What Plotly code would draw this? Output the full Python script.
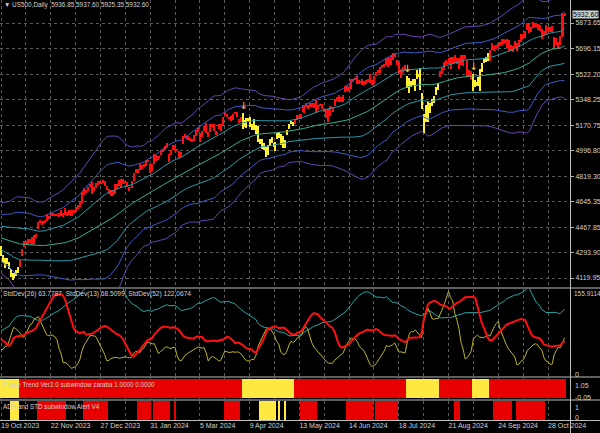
import numpy as np
import pandas as pd
import plotly.graph_objects as go
from plotly.subplots import make_subplots

# ---------------- data ----------------
date_labels = ["19 Oct 2023", "22 Nov 2023", "27 Dec 2023", "31 Jan 2024", "5 Mar 2024", "9 Apr 2024",
               "13 May 2024", "14 Jun 2024", "18 Jul 2024", "21 Aug 2024", "24 Sep 2024", "28 Oct 2024"]
label_bars = [0, 24, 48, 72, 96, 120, 144, 168, 192, 216, 240, 264]
price_ticks = [4119.95, 4293.90, 4467.85, 4645.35, 4819.30, 4996.80, 5170.75, 5348.25, 5522.20, 5696.15, 5873.65]
price_tick_text = ["4119.95", "4293.90", "4467.85", "4645.35", "4819.30", "4996.80", "5170.75", "5348.25",
                   "5522.20", "5696.15", "5873.65"]

# closes before the first visible bar (needed by the indicators)
pre_closes = [4576.7, 4513.4, 4501.9, 4478.0, 4518.4, 4499.4, 4467.7, 4468.8, 4464.1, 4489.7, 4437.9, 4404.3,
              4370.4, 4369.7, 4399.8, 4387.6, 4436.0, 4376.3, 4405.7, 4433.3, 4497.6, 4514.9, 4507.7,
              4515.8, 4515.0, 4496.8, 4465.5, 4451.1, 4457.5, 4487.5, 4461.9, 4467.4, 4505.1, 4450.3, 4453.5,
              4443.9, 4402.2, 4330.0, 4320.1, 4337.4, 4273.5, 4274.5, 4299.7, 4288.1,
              4288.4, 4229.5, 4263.8, 4258.2, 4308.5, 4335.7, 4358.2, 4376.9, 4349.6, 4327.8, 4373.6, 4373.2, 4314.6]

opens = [4321, 4273, 4210, 4235, 4232, 4175, 4152, 4139, 4171,
         4201, 4268, 4334, 4365, 4366, 4384, 4391, 4364, 4406, 4459, 4505, 4497, 4510, 4511, 4538, 4553, 4556, 4555, 4555, 4545, 4571, 4559,
         4559, 4564, 4565, 4586, 4568, 4576, 4601, 4618, 4646, 4721, 4714, 4726, 4743, 4764, 4724, 4754, 4759, 4773, 4786, 4782,
         4745, 4726, 4698, 4690, 4703, 4742, 4760, 4792, 4791, 4784, 4772, 4740, 4760, 4797, 4853, 4856, 4888, 4887, 4889, 4892, 4925, 4899,
         4862, 4916, 4957, 4950, 4973, 4996, 5005, 5027, 4967, 4977, 5004, 5032, 5006, 4989, 4964, 5039, 5094, 5094, 5074, 5067, 5085,
         5098, 5130, 5110, 5109, 5132, 5164, 5111, 5134, 5174, 5176, 5124, 5154, 5139, 5182, 5254, 5243, 5220, 5228, 5226, 5248,
         5258, 5204, 5194, 5244, 5158, 5211, 5218, 5157, 5172, 5171, 5149, 5065, 5068, 5032, 5005, 4987, 5028, 5084, 5019, 5084, 5114, 5103,
         5029, 5050, 5122, 5142, 5187, 5168, 5190, 5225, 5233, 5221, 5263, 5310, 5303, 5305, 5299, 5319, 5340, 5282, 5305, 5315, 5279, 5270, 5244,
         5297, 5275, 5314, 5357, 5343, 5341, 5353, 5410, 5441, 5424, 5431, 5477, 5487, 5499, 5466, 5459, 5461, 5461, 5473, 5488,
         5471, 5462, 5507, 5537, 5537, 5572, 5584, 5591, 5635, 5590, 5638, 5644, 5610, 5608, 5543, 5540, 5566, 5506, 5429, 5434, 5477, 5479, 5499,
         5537, 5377, 5151, 5206, 5293, 5252, 5311, 5352, 5376, 5443, 5501, 5530, 5558, 5603, 5603, 5637, 5602, 5639, 5602, 5629, 5607, 5613,
         5648, 5612, 5506, 5529, 5508, 5443, 5490, 5496, 5558, 5603, 5623, 5655, 5641, 5703, 5709, 5711, 5726, 5733, 5762, 5755, 5727,
         5757, 5698, 5698, 5734, 5737, 5719, 5751, 5778, 5775, 5829, 5866, 5816, 5875, 5860, 5858, 5833, 5834, 5815, 5826, 5834, 5819, 5826, 5776, 5724, 5724, 5722, 5785, 5936.85]

highs = [4339, 4276, 4256, 4259, 4233, 4184, 4156, 4177, 4195,
         4245, 4319, 4374, 4372, 4387, 4391, 4400, 4418, 4421, 4504, 4522, 4512, 4521, 4557, 4542, 4568, 4564, 4560, 4562, 4568, 4587, 4569,
         4599, 4574, 4587, 4591, 4591, 4610, 4623, 4644, 4709, 4739, 4726, 4749, 4769, 4779, 4749, 4773, 4785, 4785, 4793, 4789,
         4755, 4729, 4727, 4722, 4765, 4765, 4791, 4799, 4803, 4790, 4783, 4744, 4785, 4842, 4868, 4866, 4903, 4898, 4907, 4929, 4932, 4906,
         4907, 4975, 4963, 4958, 4999, 5000, 5030, 5048, 4971, 5003, 5032, 5038, 5010, 4993, 4984, 5094, 5112, 5098, 5083, 5077, 5105,
         5140, 5149, 5114, 5128, 5165, 5189, 5124, 5180, 5180, 5180, 5128, 5176, 5180, 5226, 5261, 5246, 5229, 5236, 5249, 5264,
         5263, 5209, 5229, 5256, 5222, 5219, 5224, 5178, 5211, 5175, 5168, 5078, 5077, 5046, 5019, 5038, 5076, 5089, 5057, 5114, 5124, 5110,
         5096, 5070, 5140, 5181, 5200, 5191, 5215, 5239, 5238, 5250, 5311, 5325, 5305, 5325, 5324, 5324, 5342, 5311, 5315, 5315, 5282, 5273, 5280,
         5302, 5297, 5354, 5362, 5376, 5365, 5376, 5442, 5442, 5433, 5488, 5490, 5495, 5506, 5479, 5490, 5472, 5483, 5490, 5524,
         5479, 5509, 5539, 5547, 5570, 5584, 5590, 5635, 5642, 5655, 5667, 5670, 5622, 5614, 5557, 5570, 5586, 5508, 5492, 5475, 5487, 5489, 5551,
         5566, 5395, 5250, 5312, 5330, 5326, 5351, 5372, 5435, 5464, 5546, 5561, 5608, 5621, 5633, 5643, 5642, 5651, 5631, 5632, 5655, 5651,
         5652, 5616, 5552, 5546, 5522, 5484, 5500, 5560, 5600, 5636, 5637, 5670, 5690, 5733, 5716, 5722, 5735, 5742, 5767, 5764, 5765,
         5758, 5720, 5718, 5753, 5739, 5757, 5797, 5796, 5822, 5871, 5870, 5846, 5878, 5872, 5866, 5863, 5835, 5818, 5862, 5843, 5848, 5850, 5776, 5773, 5741, 5784, 5940, 5937.6]

lows = [4268, 4223, 4190, 4219, 4181, 4127, 4103, 4132, 4153,
        4197, 4268, 4334, 4347, 4355, 4359, 4344, 4353, 4394, 4459, 4496, 4487, 4500, 4511, 4525, 4546, 4552, 4552, 4546, 4537, 4547, 4538,
        4554, 4546, 4556, 4546, 4565, 4575, 4594, 4608, 4635, 4694, 4702, 4721, 4743, 4698, 4717, 4737, 4758, 4766, 4780, 4751,
        4722, 4700, 4683, 4682, 4700, 4730, 4756, 4740, 4769, 4776, 4748, 4715, 4740, 4785, 4844, 4842, 4865, 4870, 4882, 4888, 4916, 4845,
        4853, 4907, 4927, 4932, 4969, 4987, 4999, 5016, 4920, 4964, 4999, 4996, 4994, 4947, 4951, 5039, 5081, 5069, 5059, 5058, 5063,
        5094, 5127, 5057, 5092, 5128, 5117, 5091, 5121, 5161, 5131, 5101, 5147, 5131, 5172, 5240, 5229, 5216, 5203, 5210, 5245,
        5229, 5184, 5194, 5146, 5154, 5197, 5160, 5138, 5139, 5108, 5053, 5040, 5008, 5001, 4953, 4969, 5027, 5048, 4990, 5073, 5085, 5035,
        5013, 5011, 5102, 5142, 5178, 5165, 5180, 5209, 5211, 5211, 5256, 5296, 5283, 5299, 5297, 5286, 5257, 5278, 5300, 5280, 5262, 5222, 5192,
        5234, 5264, 5303, 5336, 5332, 5331, 5331, 5397, 5404, 5404, 5420, 5471, 5480, 5452, 5452, 5447, 5446, 5452, 5471, 5460,
        5444, 5452, 5507, 5533, 5531, 5563, 5574, 5587, 5574, 5584, 5616, 5639, 5584, 5522, 5497, 5529, 5552, 5426, 5390, 5434, 5444, 5403, 5486,
        5410, 5283, 5120, 5193, 5196, 5252, 5301, 5324, 5376, 5415, 5501, 5526, 5550, 5584, 5591, 5560, 5590, 5602, 5593, 5560, 5582, 5581,
        5628, 5511, 5503, 5486, 5403, 5434, 5442, 5406, 5535, 5601, 5605, 5614, 5615, 5690, 5683, 5696, 5699, 5713, 5722, 5727, 5703,
        5680, 5679, 5675, 5703, 5683, 5712, 5740, 5765, 5772, 5825, 5804, 5809, 5840, 5846, 5824, 5822, 5762, 5784, 5800, 5823, 5809, 5812, 5703, 5723, 5696, 5721, 5775, 5925.35]

closes = [4278, 4224, 4217, 4248, 4186, 4137, 4117, 4167, 4194,
          4238, 4318, 4358, 4365, 4378, 4383, 4347, 4415, 4411, 4496, 4503, 4509, 4514, 4547, 4538, 4556, 4560, 4559, 4550, 4555, 4551, 4568,
          4595, 4569, 4567, 4549, 4585, 4604, 4622, 4644, 4707, 4720, 4719, 4741, 4768, 4698, 4746, 4755, 4775, 4782, 4783, 4770,
          4743, 4705, 4689, 4697, 4764, 4757, 4783, 4780, 4784, 4782, 4766, 4739, 4781, 4840, 4851, 4865, 4869, 4894, 4891, 4928, 4925, 4846,
          4906, 4959, 4943, 4954, 4995, 4998, 5027, 5022, 4953, 5001, 5030, 5006, 5000, 4976, 4982, 5087, 5089, 5070, 5078, 5070, 5096,
          5137, 5131, 5079, 5105, 5157, 5124, 5118, 5175, 5165, 5150, 5117, 5149, 5179, 5225, 5241, 5234, 5218, 5204, 5248, 5254,
          5243, 5205, 5211, 5147, 5204, 5202, 5209, 5161, 5200, 5123, 5061, 5051, 5022, 5011, 4967, 5010, 5071, 5072, 5048, 5100, 5116, 5036,
          5018, 5064, 5128, 5181, 5187, 5188, 5214, 5223, 5221, 5247, 5308, 5297, 5303, 5308, 5321, 5307, 5268, 5305, 5310, 5306, 5267, 5236, 5278,
          5283, 5291, 5354, 5352, 5347, 5361, 5375, 5421, 5434, 5432, 5473, 5487, 5486, 5473, 5464, 5448, 5469, 5478, 5483, 5460,
          5475, 5509, 5537, 5545, 5567, 5572, 5577, 5633, 5585, 5615, 5631, 5667, 5589, 5545, 5505, 5564, 5555, 5427, 5399, 5459, 5464, 5436, 5522,
          5446, 5347, 5186, 5240, 5199, 5319, 5344, 5344, 5434, 5455, 5543, 5554, 5608, 5597, 5620, 5571, 5635, 5616, 5625, 5592, 5592, 5648,
          5635, 5528, 5520, 5503, 5408, 5471, 5496, 5554, 5596, 5626, 5633, 5634, 5618, 5714, 5703, 5718, 5732, 5722, 5745, 5738, 5762,
          5709, 5710, 5699, 5751, 5696, 5751, 5793, 5780, 5815, 5859, 5815, 5843, 5841, 5865, 5853, 5851, 5797, 5809, 5808, 5823, 5832, 5813, 5705, 5729, 5712, 5782, 5935, 5932.6]

# trend state (bar index ranges in yellow; all other bars red)
trend_yellow = [(0, 8), (117, 141), (196, 211), (228, 235)]
# ADX/STD alert histogram (bar index ranges)
adx_red = [(18, 31), (40, 51), (66, 72), (74, 81), (84, 84), (108, 115), (145, 152), (167, 179), (181, 191),
           (219, 221), (238, 246), (249, 262)]
adx_yellow = [(5, 8), (125, 131), (132, 132), (134, 134), (137, 137)]
arrow_bars = [117, 196, 228]

# ---------------- derived ----------------
n = len(closes)
xs = list(range(n))
allc = pd.Series(pre_closes + closes, dtype=float)
off = len(pre_closes)
sd13 = allc.rolling(13).std(ddof=0).values[off:]
sd26 = allc.rolling(26).std(ddof=0).values[off:]
sd52 = allc.rolling(52).std(ddof=0).values[off:]
ma52 = allc.rolling(52).mean().values[off:]

RED = "#FF1010"
YEL = "#FFF030"
is_yel = np.zeros(n, dtype=bool)
for a, b in trend_yellow:
    is_yel[a:b + 1] = True
cols = [YEL if y else RED for y in is_yel]

o = np.array(opens, float); h = np.array(highs, float); l = np.array(lows, float); c = np.array(closes, float)
wick_lo = np.minimum(l, np.minimum(o, c)); wick_hi = np.maximum(h, np.maximum(o, c))
body_lo = np.minimum(o, c); body_len = np.maximum(np.abs(c - o), 5.0)

# ---------------- figure ----------------
W, H = 600, 433
PW, PH = 570, 420
def py(sy):
    return (PH - sy) / PH
def pxp(sx):
    return sx / PW

fig = make_subplots(rows=4, cols=1, shared_xaxes=True, vertical_spacing=0.0)

# Bollinger-style bands: 52-period mean with +-1, 2, 3 standard deviations
band_mults = [3, 2, 1, 0, -1, -2, -3]
band_cols = ["#6a44b0", "#3e5cc8", "#2a9aa8", "#38b08a", "#2a9aa8", "#3e5cc8", "#6a44b0"]
for k, col in zip(band_mults, band_cols):
    fig.add_trace(go.Scatter(x=xs, y=ma52 + k * sd52, mode="lines", line=dict(color=col, width=1),
                             hoverinfo="skip", showlegend=False), row=1, col=1)

fig.add_trace(go.Bar(x=xs, y=wick_hi - wick_lo, base=wick_lo, width=0.5, marker=dict(color=cols, line=dict(width=0)),
                     showlegend=False, hoverinfo="skip"), row=1, col=1)
fig.add_trace(go.Bar(x=xs, y=body_len, base=body_lo, width=1.0, marker=dict(color=cols, line=dict(width=0)),
                     showlegend=False, hoverinfo="skip"), row=1, col=1)
fig.add_trace(go.Scatter(x=arrow_bars, y=[highs[i] + 45 for i in arrow_bars], mode="text", text=["\u2193"] * len(arrow_bars),
                         textfont=dict(color="#FFD040", size=10, family="DejaVu Sans"), showlegend=False, hoverinfo="skip"),
              row=1, col=1)

# StdDev panel
fig.add_trace(go.Scatter(x=xs, y=sd52, mode="lines", line=dict(color="#2aa8a8", width=1), showlegend=False, hoverinfo="skip"), row=2, col=1)
fig.add_trace(go.Scatter(x=xs, y=sd13, mode="lines", line=dict(color="#bdb52a", width=1), showlegend=False, hoverinfo="skip"), row=2, col=1)
fig.add_trace(go.Scatter(x=xs, y=sd26, mode="lines", line=dict(color="#FF1010", width=2), showlegend=False, hoverinfo="skip"), row=2, col=1)

# Trend panel
fig.add_trace(go.Bar(x=xs, y=[1] * n, base=0, width=1.0, marker=dict(color=["#FFE840" if y else "#E80000" for y in is_yel], line=dict(width=0)),
                     showlegend=False, hoverinfo="skip"), row=3, col=1)

# ADX panel
adx_x, adx_c = [], []
for a, b in adx_red:
    for i in range(a, b + 1):
        adx_x.append(i); adx_c.append("#E80000")
for a, b in adx_yellow:
    for i in range(a, b + 1):
        adx_x.append(i); adx_c.append("#FFE840")
fig.add_trace(go.Bar(x=adx_x, y=[1] * len(adx_x), base=0, width=1.0, marker=dict(color=adx_c, line=dict(width=0)),
                     showlegend=False, hoverinfo="skip"), row=4, col=1)

FONT = "Liberation Sans, Arial, sans-serif"
TXT = "#d2d2d2"
GRID = "#5a5a5a"
xr = [-0.5, (PW - 1) / 2.072]
grid_vals = list(range(0, 270, 12))
for r in range(1, 5):
    fig.update_xaxes(range=xr, showgrid=True, gridcolor=GRID, griddash="dot", gridwidth=1, tickvals=grid_vals,
                     zeroline=False, showline=False, showticklabels=False, ticks="", row=r, col=1)
fig.update_xaxes(showticklabels=True, ticktext=[date_labels[label_bars.index(v)] if v in label_bars else "" for v in grid_vals],
                 tickfont=dict(family=FONT, size=7, color=TXT), ticklabelposition="outside right", row=4, col=1)

fig.update_yaxes(domain=[py(287), 1.0], range=[4058.1, 6031.8], side="right", tickvals=price_ticks, ticktext=price_tick_text,
                 showgrid=True, gridcolor=GRID, griddash="dot", gridwidth=1, zeroline=False, ticks="outside", ticklen=3,
                 tickcolor="#b0b0b0", tickfont=dict(family=FONT, size=7, color=TXT), row=1, col=1)
fig.update_yaxes(domain=[py(376), py(289)], range=[0, 155.9114], showgrid=False, zeroline=False, showticklabels=False, row=2, col=1)
fig.update_yaxes(domain=[py(399), py(378)], range=[-0.05, 1.05], showgrid=False, zeroline=False, showticklabels=False, row=3, col=1)
fig.update_yaxes(domain=[py(420), py(401)], range=[0, 1], showgrid=False, zeroline=False, showticklabels=False, row=4, col=1)

shapes = []
for sy in [288, 377, 400, 420.5]:
    shapes.append(dict(type="line", xref="paper", yref="paper", x0=0, x1=W / PW, y0=py(sy), y1=py(sy),
                       line=dict(color="#bdbdbd", width=1)))
shapes.append(dict(type="line", xref="paper", yref="paper", x0=pxp(570.5), x1=pxp(570.5), y0=py(433), y1=1,
                   line=dict(color="#bdbdbd", width=1)))

ann = []
def label(text, sx, sy, xanchor="left", yanchor="middle", size=7, color=TXT, **kw):
    ann.append(dict(text=text, x=pxp(sx), y=py(sy), xref="paper", yref="paper", xanchor=xanchor, yanchor=yanchor,
                    showarrow=False, font=dict(family=FONT, size=size, color=color), **kw))

label("\u25bc US500,Daily\u00a0\u00a05936.85 5937.60 5925.35 5932.60", 2, 5, size=6.4)
label("StdDev(26) 63.7787\u00a0\u00a0StdDev(13) 68.5099\u00a0\u00a0StdDev(52) 122.0674", 1, 294, size=6.6)
label("Phase Trend Ver2.0 subwindow zaraba 1.0000 0.0000", 1, 384, size=6.3)
label("ADX and STD subwindow Alert V4", 1, 406, size=6.3)
label("155.9114", 572, 293, size=6.5)
label("0", 573, 374)
label("1.05", 573, 385)
label("-0.05", 573, 397)
label("1", 573, 407)
label("0", 573, 417)
cur_y = 23 - (5932.60 - 5873.65) / 6.877
label("5932.60", 572, cur_y, color="#000000", bgcolor="#d0d0d0", borderpad=0)

fig.update_layout(width=W, height=H, margin=dict(l=0, r=W - PW, t=0, b=H - PH), paper_bgcolor="#000000",
                  plot_bgcolor="#000000", barmode="overlay", bargap=0, showlegend=False, shapes=shapes, annotations=ann,
                  font=dict(family=FONT, size=7, color=TXT))

fig.write_html("out.html", config={"displayModeBar": False},
               post_script="document.body.style.margin='0';document.body.style.padding='0';document.body.style.background='#000';document.body.style.overflow='hidden';")
